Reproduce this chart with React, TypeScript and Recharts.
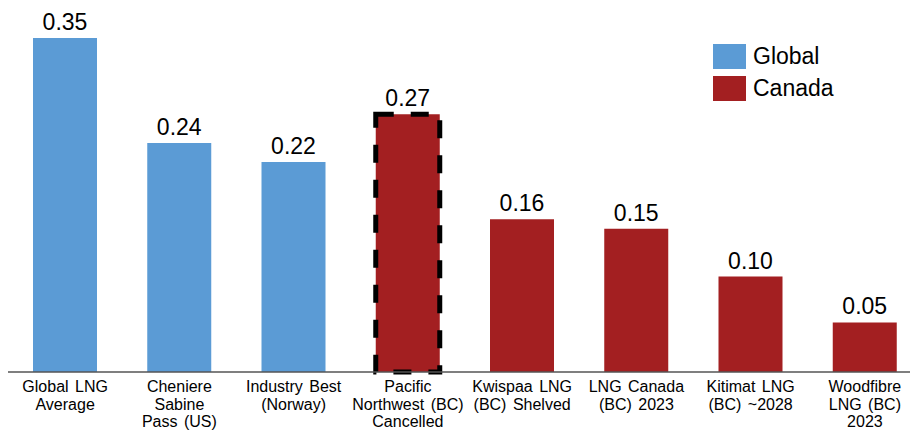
import { BarChart, Bar, XAxis, YAxis, Cell, LabelList, Legend } from "recharts";

const categories = [
  "Global LNG\nAverage",
  "Cheniere\nSabine\nPass (US)",
  "Industry Best\n(Norway)",
  "Pacific\nNorthwest (BC)\nCancelled",
  "Kwispaa LNG\n(BC) Shelved",
  "LNG Canada\n(BC) 2023",
  "Kitimat LNG\n(BC) ~2028",
  "Woodfibre\nLNG (BC)\n2023",
];
const intensity = [0.35, 0.24, 0.22, 0.27, 0.16, 0.15, 0.1, 0.052];
const region = ["Global", "Global", "Global", "Canada", "Canada", "Canada", "Canada", "Canada"];
const highlighted = [false, false, false, true, false, false, false, false];

const groups = ["Global", "Canada"];
const groupColors: Record<string, string> = { Global: "#5B9BD5", Canada: "#A31F21" };

const data = categories.map((name, i) => ({
  name,
  value: intensity[i],
  region: region[i],
}));

const font = "'Liberation Sans', Arial, sans-serif";

function CategoryTick(props: any) {
  const { x, y, payload } = props;
  const lines = String(payload.value).split("\n");
  return (
    <text x={x} y={y} textAnchor="middle" fontSize={16} fill="#000" fontFamily={font} wordSpacing={2}>
      {lines.map((line, i) => (
        <tspan key={i} x={x} dy={i === 0 ? 20 : 17.6}>
          {line}
        </tspan>
      ))}
    </text>
  );
}

function GroupLegend() {
  return (
    <div style={{ fontFamily: font, fontSize: 23, color: "#000" }}>
      {groups.map((g) => (
        <div key={g} style={{ display: "flex", alignItems: "center", height: 32 }}>
          <span
            style={{ display: "inline-block", width: 33, height: 25, background: groupColors[g], marginRight: 7 }}
          />
          <span>{g}</span>
        </div>
      ))}
    </div>
  );
}

export default function App() {
  return (
    <div style={{ position: "absolute", left: 0, top: 0, width: 910, height: 431, overflow: "hidden", background: "#fff" }}>
      <BarChart
        width={922}
        height={431}
        data={data}
        margin={{ top: 38, right: 0, bottom: 0, left: 8 }}
        style={{ fontFamily: font }}
      >
        <XAxis
          dataKey="name"
          interval={0}
          tickLine={false}
          tickSize={0}
          tickMargin={0}
          axisLine={{ stroke: "#555", strokeWidth: 1.5 }}
          tick={<CategoryTick />}
          height={59}
        />
        <YAxis hide domain={[0, 0.35]} />
        <Legend
          layout="vertical"
          align="center"
          verticalAlign="middle"
          content={<GroupLegend />}
          wrapperStyle={{ position: "absolute", left: 713, top: 40, width: 140 }}
        />
        <Bar dataKey="value" barSize={64} isAnimationActive={false}>
          {data.map((d, i) => (
            <Cell
              key={i}
              fill={groupColors[d.region]}
              stroke={highlighted[i] ? "#000" : "none"}
              strokeWidth={highlighted[i] ? 5 : 0}
              strokeDasharray={highlighted[i] ? "18 17" : undefined}
            />
          ))}
          <LabelList
            dataKey="value"
            position="top"
            offset={8}
            fontSize={23}
            fill="#000"
            fontFamily={font}
            formatter={(v: any) => Number(v).toFixed(2)}
          />
        </Bar>
      </BarChart>
    </div>
  );
}
